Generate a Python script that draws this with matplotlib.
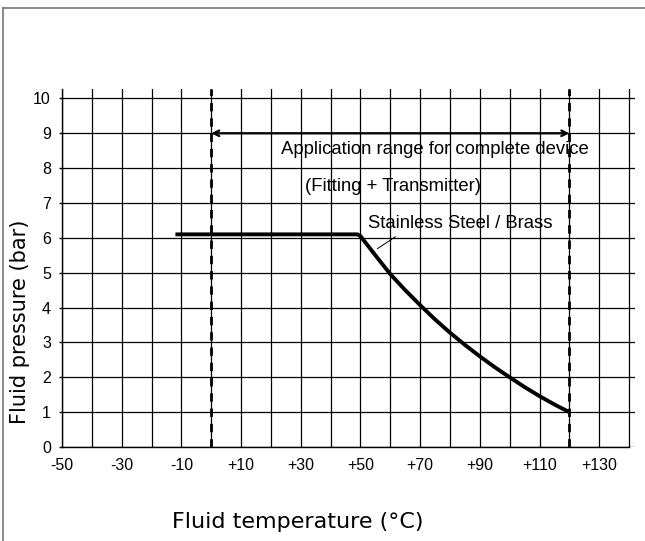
import matplotlib
matplotlib.use("Agg")
import matplotlib.pyplot as plt
from matplotlib.lines import Line2D

plt.rcParams['font.family'] = ['Liberation Sans', 'DejaVu Sans']

# Data
temps = [-12, 49, 50, 55, 60, 65, 70, 75, 80, 85, 90, 95, 100, 105, 110, 115, 120]
pressure = [6.1, 6.1, 6.05, 5.5, 4.96, 4.5, 4.07, 3.66, 3.28, 2.93, 2.6, 2.29, 2.0, 1.72, 1.46, 1.22, 1.0]
range_lo, range_hi = 0, 120
x_grid = list(range(-50, 141, 10))
x_labels = ["-50", "-30", "-10", "+10", "+30", "+50", "+70", "+90", "+110", "+130"]
x_label_pos = [-50, -30, -10, 10, 30, 50, 70, 90, 110, 130]
y_ticks = list(range(0, 11))

fig = plt.figure(figsize=(6.45, 5.41), dpi=100)
ax = fig.add_axes([62/645, 1-447/541, (635-62)/645, (447-89)/541])

ax.set_xlim(-50, 142)
ax.set_ylim(0, 10.27)

# grid
for x in x_grid:
    ax.axvline(x, color='black', lw=0.9, zorder=1)
for y in y_ticks:
    ax.axhline(y, color='black', lw=0.9, zorder=1)

for s in ['top', 'right']:
    ax.spines[s].set_visible(False)
ax.spines['bottom'].set_bounds(-50, 140)
ax.spines['left'].set_linewidth(1.0)
ax.spines['bottom'].set_linewidth(1.0)

ax.set_xticks(x_label_pos)
ax.set_xticklabels(x_labels, fontsize=11.5)
ax.tick_params(axis='x', length=0, pad=8)
ax.set_yticks(y_ticks)
ax.set_yticklabels([str(v) for v in y_ticks], fontsize=11.5)
ax.tick_params(axis='y', length=2, pad=6, width=1)

# dashed range lines
for xv in (range_lo, range_hi):
    ax.plot([xv, xv], [0, 10.27], color='black', lw=2, ls=(0, (3, 2.5)), zorder=3,
            clip_on=False)

ax.annotate('', xy=(range_lo, 9), xytext=(range_hi, 9),
            arrowprops=dict(arrowstyle='<->', lw=1.6, color='black',
                            shrinkA=0, shrinkB=0, mutation_scale=10), zorder=4)

# curve
ax.plot(temps, pressure, color='black', lw=2.8, zorder=5, solid_capstyle='butt',
        solid_joinstyle='round')

ax.text(75, 8.53, 'Application range for complete device', fontsize=13.3,
        ha='center', va='center', zorder=6)
ax.text(61, 7.47, '(Fitting + Transmitter)', fontsize=13.3,
        ha='center', va='center', zorder=6)
ax.text(83.5, 6.4, 'Stainless Steel / Brass', fontsize=13.3,
        ha='center', va='center', zorder=6)
ax.plot([55.7, 61.7], [5.69, 6.03], color='black', lw=0.7, zorder=6)

fig.text(20/645, 1-322/541, 'Fluid pressure (bar)', rotation=90, fontsize=15,
         ha='center', va='center', family='DejaVu Sans')
fig.text(298/645, 1-522/541, 'Fluid temperature (\u00b0C)', fontsize=16,
         ha='center', va='center', family='DejaVu Sans')

# figure frame (top and left)
fig.add_artist(Line2D([3/645, 3/645], [0, 1-8/541], transform=fig.transFigure,
                      color='#777777', lw=1.2))
fig.add_artist(Line2D([3/645, 1], [1-8/541, 1-8/541], transform=fig.transFigure,
                      color='#777777', lw=1.2))

fig.savefig('out.png', dpi=100)
